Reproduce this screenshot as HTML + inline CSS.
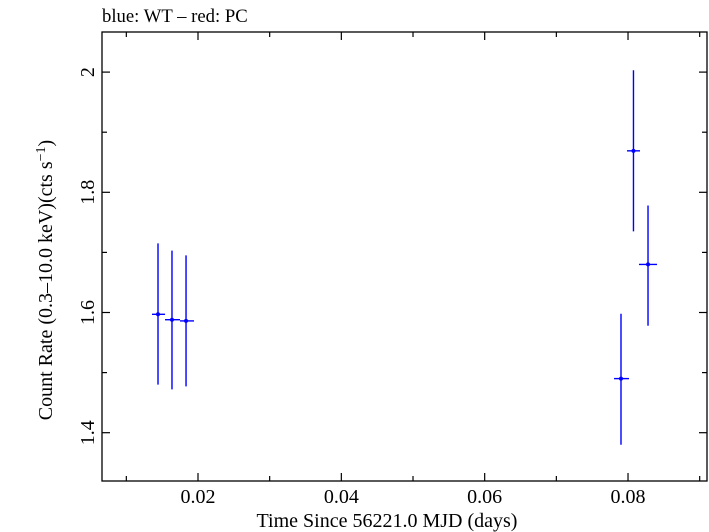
<!DOCTYPE html>
<html><head><meta charset="utf-8"><style>
body{margin:0;background:#fff;}
svg{display:block;font-family:"Liberation Serif",serif;}
</style></head><body>
<svg id="chart" width="709" height="532" viewBox="0 0 709 532">
<text x="102" y="22" font-size="18.7">blue: WT – red: PC</text>
<rect x="102" y="32" width="605" height="449" fill="none" stroke="#000" stroke-width="1.3"/>
<g id="axes"></g>
<g id="marks"></g>
<text x="387" y="527" font-size="20" text-anchor="middle">Time Since 56221.0 MJD (days)</text>
<text transform="translate(52,280) rotate(-90)" font-size="20" text-anchor="middle">Count Rate (0.3–10.0 keV)(cts s<tspan dy="-7" font-size="14">−1</tspan><tspan dy="7">)</tspan></text>
</svg>
<script>
const times=[0.01442,0.01637,0.01833,0.07902,0.08076,0.08279];
const tLo=[0.01358,0.0154,0.01749,0.07805,0.07986,0.08153];
const tHi=[0.0154,0.01749,0.01944,0.08014,0.08167,0.08405];
const rates=[1.597,1.588,1.586,1.490,1.869,1.680];
const rLo=[1.480,1.472,1.477,1.380,1.735,1.578];
const rHi=[1.715,1.703,1.695,1.598,2.003,1.778];
const xTicks=[0.02,0.04,0.06,0.08];
const xTickLabels=["0.02","0.04","0.06","0.08"];
const xMinor=[0.01,0.03,0.05,0.07,0.09];
const yTicks=[1.4,1.6,1.8,2.0];
const yTickLabels=["1.4","1.6","1.8","2"];
const yMinor=[1.5,1.7,1.9];
const X=t=>198+(t-0.02)*7167;
const Y=v=>312.5-(v-1.6)*601;
const NS="http://www.w3.org/2000/svg";
function mk(parent,tag,attrs){const e=document.createElementNS(NS,tag);for(const k in attrs)e.setAttribute(k,attrs[k]);parent.appendChild(e);return e;}
const ax=document.getElementById('axes');
xTicks.forEach((t,i)=>{
  let l=mk(ax,'line',{x1:X(t),x2:X(t),y1:481,y2:473,stroke:'#000','stroke-width':1.2});
  
  
  let l2=mk(ax,'line',{x1:X(t),x2:X(t),y1:32,y2:40,stroke:'#000','stroke-width':1.2});
  
  
  let tx=mk(ax,'text',{x:X(t),y:503,'font-size':20,'text-anchor':'middle'});
  tx.textContent=xTickLabels[i];
  
  
});
xMinor.forEach(t=>{
  let l=mk(ax,'line',{x1:X(t),x2:X(t),y1:481,y2:476,stroke:'#000','stroke-width':1.2});
  
  
  let l2=mk(ax,'line',{x1:X(t),x2:X(t),y1:32,y2:37,stroke:'#000','stroke-width':1.2});
  
  
});
yTicks.forEach((v,i)=>{
  let l=mk(ax,'line',{x1:102,x2:110,y1:Y(v),y2:Y(v),stroke:'#000','stroke-width':1.2});
  
  
  let l2=mk(ax,'line',{x1:699,x2:707,y1:Y(v),y2:Y(v),stroke:'#000','stroke-width':1.2});
  
  
  let tx=mk(ax,'text',{transform:`translate(94,${Y(v)}) rotate(-90)`,'font-size':20,'text-anchor':'middle'});
  tx.textContent=yTickLabels[i];
  
  
});
yMinor.forEach(v=>{
  let l=mk(ax,'line',{x1:102,x2:107,y1:Y(v),y2:Y(v),stroke:'#000','stroke-width':1.2});
  
  
  let l2=mk(ax,'line',{x1:702,x2:707,y1:Y(v),y2:Y(v),stroke:'#000','stroke-width':1.2});
  
  
});
const mg=document.getElementById('marks');
times.forEach((t,i)=>{
  let v=mk(mg,'line',{x1:X(t),x2:X(t),y1:Y(rLo[i]),y2:Y(rHi[i]),stroke:'#0000ff','stroke-width':1.4});
  
  
  let h=mk(mg,'line',{x1:X(tLo[i]),x2:X(tHi[i]),y1:Y(rates[i]),y2:Y(rates[i]),stroke:'#0000ff','stroke-width':1.4});
  
  
  let c=mk(mg,'circle',{cx:X(t),cy:Y(rates[i]),r:2,fill:'#0000ff'});
  
  
});
</script>
</body></html>
